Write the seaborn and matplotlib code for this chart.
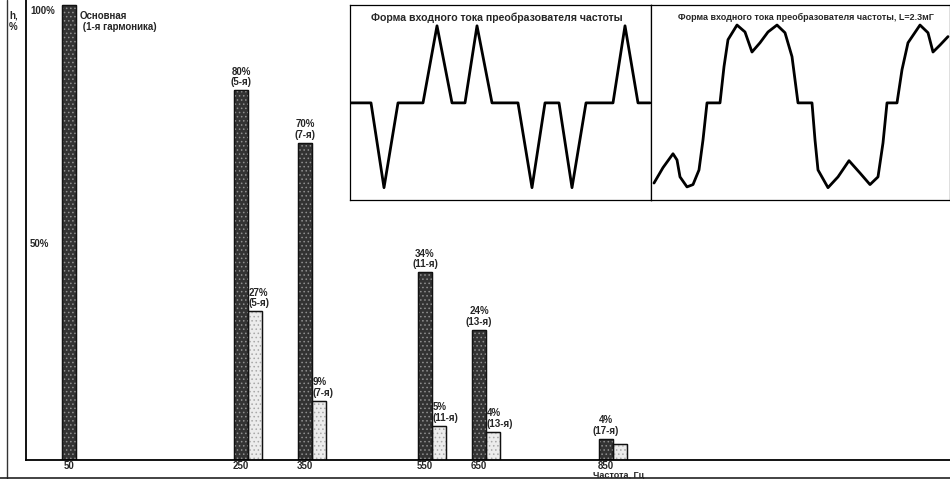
import numpy as np
import pandas as pd
import matplotlib
matplotlib.use("Agg")
import matplotlib.pyplot as plt
import seaborn as sns
from matplotlib.patches import Rectangle
from matplotlib.lines import Line2D

# ---------------- data ----------------
freq_labels = ["50", "250", "350", "550", "650", "850"]
# bar heights as drawn in the picture (% of fundamental)
dark_h = [100.0, 81.3, 69.7, 41.3, 28.6, 4.6]
light_h = [np.nan, 32.7, 13.0, 7.5, 6.2, 3.5]
dark_text = ["", "80%\n(5-я)", "70%\n(7-я)", "34%\n(11-я)", "24%\n(13-я)", "4%\n(17-я)"]
light_text = ["", "27%\n(5-я)", "9%\n(7-я)", "5%\n(11-я)", "4%\n(13-я)", ""]
ytick_labels = ["100%", "50%"]
ytick_pos = [98.6, 47.5]

# waveform 1 (no choke): time units, relative current
w1_t = [0, 21, 34, 48, 73, 87, 102, 115, 127, 142, 168, 182, 195, 209, 222, 236, 263, 275, 288, 300]
w1_i = [0, 0, -1.10, 0, 0, 1.0, 0, 0, 1.0, 0, 0, -1.10, 0, 0, -1.10, 0, 0, 1.0, 0, 0]
# waveform 2 (L = 2.3 mH)
w2_t = [3, 12, 22, 26, 29, 36, 42, 48, 52, 56, 69, 73, 77, 86, 94, 101, 109, 117, 126, 134,
        141, 147, 161, 164, 167, 177, 187, 198, 209, 219, 227, 232, 236, 246, 251, 257, 269,
        277, 282, 289, 297]
w2_i = [-1.04, -0.84, -0.66, -0.74, -0.96, -1.09, -1.06, -0.87, -0.48, 0, 0, 0.47, 0.82, 1.01,
        0.92, 0.66, 0.78, 0.92, 1.01, 0.91, 0.60, 0, 0, -0.48, -0.87, -1.10, -0.96, -0.75,
        -0.91, -1.06, -0.96, -0.52, 0, 0, 0.43, 0.78, 1.01, 0.91, 0.66, 0.75, 0.86]

# ---------------- layout (hand-drawn, non-linear slot positions) ----------------
slot_x = [76, 248, 312, 432, 486, 613]

W, H = 950, 479
sns.set_style("white")
plt.rcParams["font.family"] = ["Liberation Sans", "DejaVu Sans"]
plt.rcParams["hatch.linewidth"] = 0.6

fig = plt.figure(figsize=(9.5, 4.79), dpi=100)
ax = fig.add_axes([26 / W, 1 - 460 / H, 1 - 26 / W, 460 / H])

rows = []
for s, d, l in zip(slot_x, dark_h, light_h):
    rows.append({"slot": s, "h": d, "series": "dark"})
    if not np.isnan(l):
        rows.append({"slot": s, "h": l, "series": "light"})
df = pd.DataFrame(rows)

native_w = np.min(np.diff(sorted(set(slot_x))))
sns.barplot(data=df, x="slot", y="h", hue="series", native_scale=True, dodge=True,
            width=28 / native_w, palette={"dark": "#333333", "light": "#ececec"},
            edgecolor="#111111", linewidth=0.9, legend=False, ax=ax)

dark_bars = list(ax.containers[0])
light_bars = list(ax.containers[1])

for bars, hc in ((dark_bars, "#909090"), (light_bars, "#a8a8a8")):
    for p in bars:
        ax.add_patch(Rectangle((p.get_x(), p.get_y()), p.get_width(), p.get_height(),
                               fill=False, hatch="....", edgecolor=hc, lw=0, zorder=p.get_zorder() + 0.1))
        ax.add_patch(Rectangle((p.get_x(), p.get_y()), p.get_width(), p.get_height(),
                               fill=False, edgecolor="#111111", lw=0.9, zorder=p.get_zorder() + 0.2))

ax.set_xlim(26, W)
ax.set_ylim(0, 460 / 455 * 100)
ax.set_xlabel("")
ax.set_ylabel("")
for sp in ("top", "right"):
    ax.spines[sp].set_visible(False)
for sp in ("left", "bottom"):
    ax.spines[sp].set_color("black")
    ax.spines[sp].set_linewidth(1.3)

centers = [p.get_x() + p.get_width() / 2 for p in dark_bars]
ax.set_xticks(centers)
ax.set_xticklabels(freq_labels, fontsize=7, fontweight="bold")
ax.tick_params(axis="x", length=0, pad=1.0)
ax.set_yticks([])

fs = 7
# dark bar labels
for p, t in zip(dark_bars, dark_text):
    if t:
        ax.annotate(t, (p.get_x() + p.get_width() / 2, p.get_height()), xytext=(0, 2),
                    textcoords="offset points", ha="center", va="bottom",
                    fontsize=fs, fontweight="bold", linespacing=1.1)
# light bar labels (left aligned at bar's left edge)
lb = iter(light_bars)
for l, t in zip(light_h, light_text):
    if np.isnan(l):
        continue
    p = next(lb)
    if t:
        ax.annotate(t, (p.get_x(), p.get_height()), xytext=(0.5, 2),
                    textcoords="offset points", ha="left", va="bottom",
                    fontsize=fs, fontweight="bold", linespacing=1.1)

for lab, yp in zip(ytick_labels, ytick_pos):
    ax.text(30, yp, lab, ha="left", va="center", fontsize=fs, fontweight="bold")

fig.text(9 / W, 1 - 11 / H, "h,\n%", ha="left", va="top", fontsize=fs, fontweight="bold", linespacing=1.1)
fig.text(80 / W, 1 - 11 / H, "Основная\n (1-я гармоника)", ha="left", va="top",
         fontsize=fs, fontweight="bold", linespacing=1.1)
fig.text(593 / W, 1 - 471.5 / H, "Частота, Гц", ha="left", va="top", fontsize=6.5, fontweight="bold")

# borders
fig.add_artist(Line2D([7 / W, 7 / W], [0, 1], transform=fig.transFigure, color="#333333", lw=1.0))
fig.add_artist(Line2D([0, 1], [1 - 477.5 / H, 1 - 477.5 / H], transform=fig.transFigure, color="#222222", lw=1.2))

# insets
def inset(x0, x1, t, i, title, tfs, tx):
    a = fig.add_axes([x0 / W, 1 - 200 / H, (x1 - x0) / W, 195 / H])
    sns.lineplot(x=t, y=i, sort=False, estimator=None, color="black", lw=2.0, ax=a)
    for l in a.get_lines():
        l.set_solid_joinstyle("round")
        l.set_solid_capstyle("round")
    a.set_xlim(0, x1 - x0)
    a.set_ylim(-1.26, 1.27)
    a.set_xticks([])
    a.set_yticks([])
    for sp in a.spines.values():
        sp.set_visible(True)
        sp.set_color("black")
        sp.set_linewidth(0.9)
    a.set_facecolor("white")
    a.text(tx, 0.935, title, transform=a.transAxes, ha="center", va="center",
           fontsize=tfs, fontweight="bold")
    return a

inset(350, 651, w1_t, w1_i, "Форма входного тока преобразователя частоты", 7.6, 0.488)
inset(651, 950, w2_t, w2_i, "Форма входного тока преобразователя частоты, L=2.3мГ", 6.5, 0.518)

fig.savefig("out.png", dpi=100, facecolor="white")
